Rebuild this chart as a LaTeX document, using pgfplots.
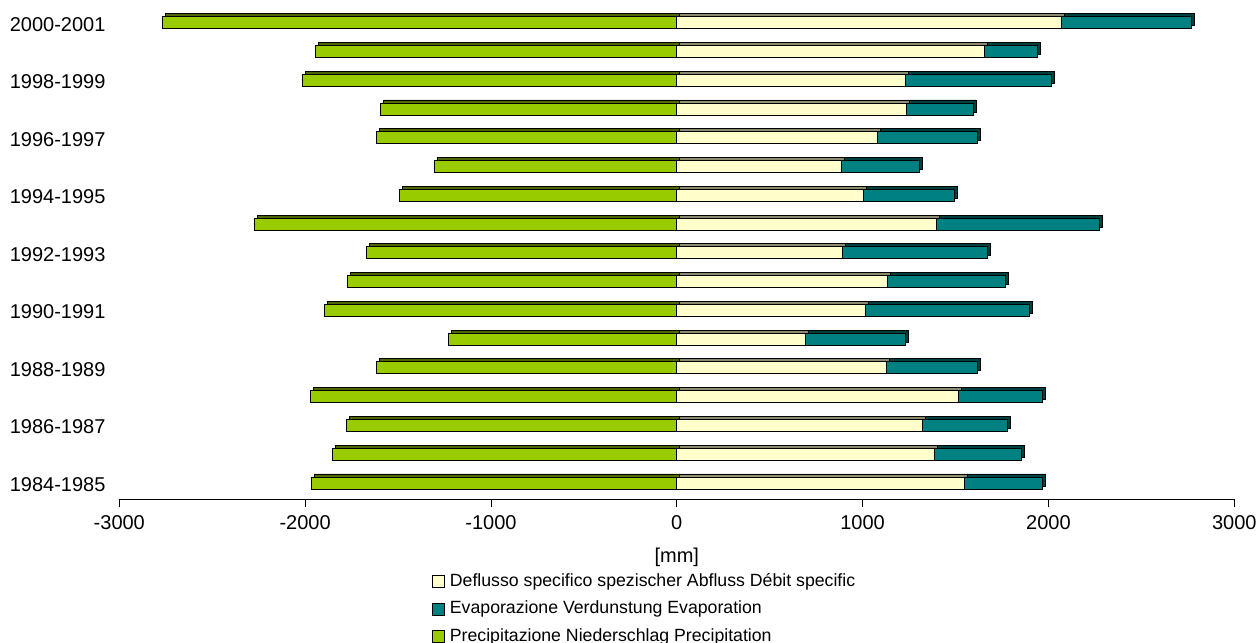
\documentclass[border=0pt]{standalone}
\usepackage{fontspec}
\setmainfont{Liberation Sans}
\usepackage{pgfplots}
\usepackage{pgfplotstable}
\pgfplotsset{compat=1.18}
\definecolor{cgreen}{HTML}{99CC00}
\definecolor{cgreenTop}{HTML}{4C6600}
\definecolor{cyellow}{HTML}{FFFFCC}
\definecolor{cyellowTop}{HTML}{8A8A70}
\definecolor{cteal}{HTML}{008080}
\definecolor{ctealTop}{HTML}{004040}

% idx: 0 = 1984-1985 ... 16 = 2000-2001
% P = precipitation (drawn negative), D = specific runoff, E = evaporation
\pgfplotstableread{
idx P D E
0 -1968 1548 420
1 -1855 1387 468
2 -1779 1323 456
3 -1970 1516 454
4 -1615 1129 486
5 -1228 693 535
6 -1898 1016 882
7 -1770 1134 636
8 -1672 893 779
9 -2274 1396 878
10 -1492 1005 487
11 -1307 888 419
12 -1615 1081 534
13 -1594 1236 358
14 -2016 1231 785
15 -1943 1656 287
16 -2769 2068 701
}\data

\pgfplotsset{
  base/.style={
    scale only axis, width=1115bp, height=493bp,
    at={(119.3bp,143.7bp)}, anchor=south west,
    xmin=-3000, xmax=3000, ymin=-0.57, ymax=16.57,
    bar width=12bp,
  },
}

\begin{document}
\fontsize{20bp}{24bp}\selectfont
\begin{tikzpicture}
\path[use as bounding box] (0,0) rectangle (1260bp,643bp);

% precipitation (negative), 3D top face first then front
\begin{axis}[base, hide axis, xbar, /pgf/bar shift=0pt]
\addplot[fill=cgreenTop, draw=black, line width=0.8bp, xshift=3bp, yshift=3bp] table[x=P,y=idx]{\data};
\addplot[fill=cgreen, draw=black, line width=0.8bp] table[x=P,y=idx]{\data};
\end{axis}

% top faces of the stacked positive bars
\begin{axis}[base, hide axis, xbar stacked]
\addplot[fill=cyellowTop, draw=black, line width=0.8bp, xshift=3bp, yshift=3bp] table[x=D,y=idx]{\data};
\addplot[fill=ctealTop, draw=black, line width=0.8bp, xshift=3bp, yshift=3bp] table[x=E,y=idx]{\data};
\end{axis}

% front faces, axis and legend
\begin{axis}[base, xbar stacked,
  axis x line*=bottom,
  y axis line style={draw=none},
  ytick style={draw=none},
  x axis line style={line width=0.8bp},
  xtick={-3000,-2000,...,3000},
  tick align=outside,
  major tick length=8bp,
  xtick style={line width=0.8bp, black},
  scaled x ticks=false,
  /pgf/number format/1000 sep={},
  /pgf/number format/assume math mode=true,
  ytick={0,2,...,16},
  yticklabels={1984-1985,1986-1987,1988-1989,1990-1991,1992-1993,1994-1995,1996-1997,1998-1999,2000-2001},
  ticklabel style={font=\fontsize{20bp}{24bp}\selectfont},
  yticklabel style={xshift=1bp, yshift=-1.5bp},
  xticklabel style={yshift=-1.5bp},
  xlabel={[mm]},
  xlabel style={font=\fontsize{20bp}{24bp}\selectfont, yshift=-5bp},
  legend style={
    at={(0.2804,-0.145)}, anchor=north west,
    draw=none, fill=none, inner sep=0pt,
    font=\fontsize{17.7bp}{21bp}\selectfont,
    row sep=8bp,
    cells={anchor=west},
  },
  legend image code/.code={\draw[#1, draw=black, line width=0.8bp] (0bp,-6bp) rectangle (12bp,6bp); \path (15bp,0bp);},
]
\addplot[fill=cyellow, draw=black, line width=0.8bp] table[x=D,y=idx]{\data};
\addlegendentry{Deflusso specifico spezischer Abfluss Débit specific}
\addplot[fill=cteal, draw=black, line width=0.8bp] table[x=E,y=idx]{\data};
\addlegendentry{Evaporazione Verdunstung Evaporation}
\addlegendimage{fill=cgreen, draw=black}
\addlegendentry{Precipitazione Niederschlag Precipitation}
\end{axis}
\end{tikzpicture}
\end{document}
